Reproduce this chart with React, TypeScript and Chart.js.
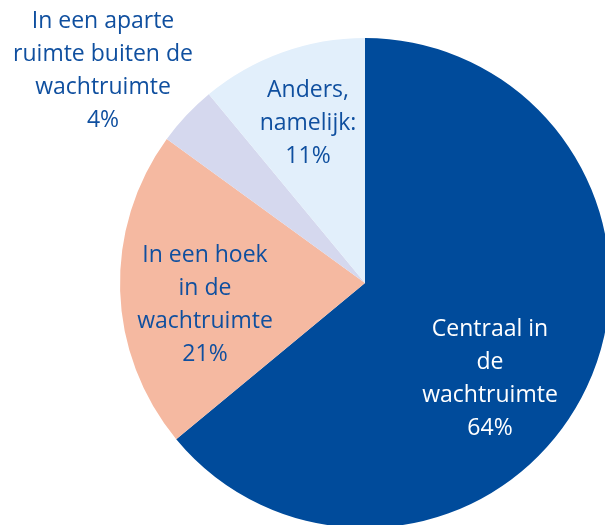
import React, { useEffect, useRef } from "react";
import { Chart, registerables } from "chart.js";

Chart.register(...registerables);

const categories = ["Centraal in de wachtruimte", "In een hoek in de wachtruimte", "In een aparte ruimte buiten de wachtruimte", "Anders, namelijk:"];
const values = [64, 21, 4, 11];
const labelLines = [
  ["Centraal in", "de", "wachtruimte", "64%"],
  ["In een hoek", "in de", "wachtruimte", "21%"],
  ["In een aparte", "ruimte buiten de", "wachtruimte", "4%"],
  ["Anders,", "namelijk:", "11%"],
];
const colors = ["#004B9B", "#F5B9A1", "#D5D8EE", "#E2EFFB"];
const textColors = ["#FFFFFF", "#0F4F9F", "#0F4F9F", "#0F4F9F"];

// label centre offsets relative to pie centre (pixels)
const labelOffsets = [
  [125, 96],
  [-160, 22],
  [-262, -212],
  [-57, -160],
];

const labelPlugin = {
  id: "sliceLabels",
  afterDatasetsDraw(chart: any) {
    const ctx = chart.ctx;
    const meta = chart.getDatasetMeta(0);
    const arc = meta.data[0];
    const cx = arc.x;
    const cy = arc.y;
    ctx.save();
    ctx.font = "23px 'Open Sans'";
    ctx.textAlign = "center";
    ctx.textBaseline = "middle";
    const lh = 33;
    labelLines.forEach((lines, i) => {
      const [ox, oy] = labelOffsets[i];
      ctx.fillStyle = textColors[i];
      const n = lines.length;
      lines.forEach((t, j) => {
        ctx.fillText(t, cx + ox, cy + oy + (j - (n - 1) / 2) * lh);
      });
    });
    ctx.restore();
  },
};

export default function App() {
  const ref = useRef<HTMLCanvasElement>(null);
  useEffect(() => {
    if (!ref.current) return;
    const chart = new Chart(ref.current, {
      type: "pie",
      data: {
        labels: categories,
        datasets: [
          {
            data: values,
            backgroundColor: colors,
            borderWidth: 0,
          },
        ],
      },
      options: {
        animation: false,
        responsive: false,
        maintainAspectRatio: false,
        layout: { padding: 38 },
        plugins: {
          legend: { display: false },
          tooltip: { enabled: false },
        },
      },
      plugins: [labelPlugin],
    });
    return () => chart.destroy();
  }, []);
  return (
    <div style={{ position: "fixed", left: 0, top: 0, width: 605, height: 525, overflow: "hidden", background: "#fff" }}>
      <canvas ref={ref} width={730} height={566} style={{ display: "block", width: 730, height: 566 }} />
    </div>
  );
}
